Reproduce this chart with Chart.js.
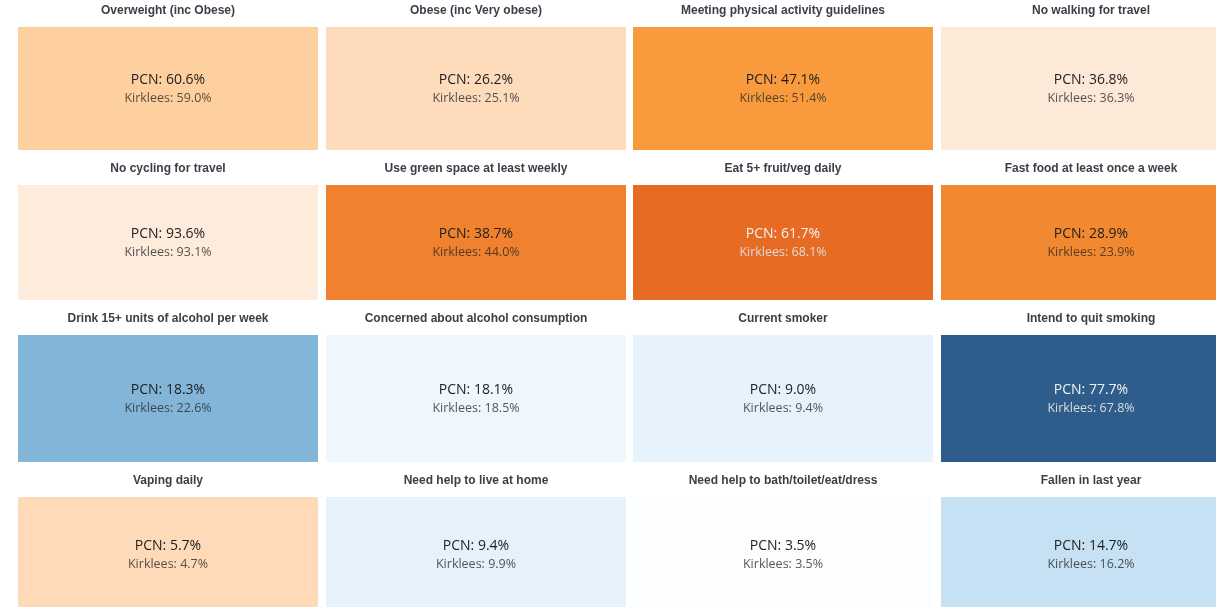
<!DOCTYPE html>
<html lang="en">

<head>
    <meta charset="UTF-8">
    <title>PCN vs Kirklees tiles</title>
    <script src="https://cdn.jsdelivr.net/npm/chart.js"></script>
    <style>
        html, body { margin: 0; padding: 0; background: #fff; overflow: hidden; }
        .grid {
            display: grid;
            grid-template-columns: repeat(4, 300px);
            grid-template-rows: 150px 142px 154px 142px;
            column-gap: 7.5px;
            row-gap: 8px;
            margin-left: 18px;
            width: 1222.5px;
        }
        .tile { position: relative; }
    </style>
</head>

<body>
    <div class="grid" id="grid"></div>
    <script>
        // indicators, left to right, top to bottom
        const indicators = [
            'Overweight (inc Obese)', 'Obese (inc Very obese)', 'Meeting physical activity guidelines', 'No walking for travel',
            'No cycling for travel', 'Use green space at least weekly', 'Eat 5+ fruit/veg daily', 'Fast food at least once a week',
            'Drink 15+ units of alcohol per week', 'Concerned about alcohol consumption', 'Current smoker', 'Intend to quit smoking',
            'Vaping daily', 'Need help to live at home', 'Need help to bath/toilet/eat/dress', 'Fallen in last year'
        ];
        const pcnValues = [60.6, 26.2, 47.1, 36.8, 93.6, 38.7, 61.7, 28.9, 18.3, 18.1, 9.0, 77.7, 5.7, 9.4, 3.5, 14.7];
        const kirkleesValues = [59.0, 25.1, 51.4, 36.3, 93.1, 44.0, 68.1, 23.9, 22.6, 18.5, 9.4, 67.8, 4.7, 9.9, 3.5, 16.2];

        // tile fill colours (styling only)
        const tileColours = [
            '#fed09f', '#fddbbb', '#f99b3d', '#fde9d8',
            '#fdebdb', '#f0812e', '#e86b23', '#f28930',
            '#83b5d9', '#eef6fe', '#e7f3fc', '#2e5d8b',
            '#fedab8', '#e5f1fb', '#fbfdff', '#c6e1f3'
        ];
        const darkTiles = ['#e86b23', '#2e5d8b'];

        const tileText = {
            id: 'tileText',
            afterDatasetsDraw(chart) {
                const bar = chart.getDatasetMeta(0).data[0];
                const i = chart.options.plugins.tileText.index;
                const dark = darkTiles.includes(tileColours[i]);
                const cx = bar.x;
                const cy = (bar.y + bar.base) / 2;
                const ctx = chart.ctx;
                ctx.save();
                ctx.textAlign = 'center';
                ctx.textBaseline = 'middle';
                ctx.font = '14px "Open Sans", "Noto Sans", sans-serif';
                ctx.fillStyle = dark ? '#f2f2f2' : '#1e1e1e';
                ctx.fillText('PCN: ' + pcnValues[i].toFixed(1) + '%', cx, cy - 8);
                ctx.font = '12.5px "Open Sans", "Noto Sans", sans-serif';
                ctx.fillStyle = dark ? '#dcdcdc' : 'rgba(40,40,40,0.78)';
                ctx.fillText('Kirklees: ' + kirkleesValues[i].toFixed(1) + '%', cx, cy + 10);
                ctx.restore();
            }
        };

        const grid = document.getElementById('grid');
        indicators.forEach((name, i) => {
            const div = document.createElement('div');
            div.className = 'tile';
            const canvas = document.createElement('canvas');
            div.appendChild(canvas);
            grid.appendChild(div);

            new Chart(canvas, {
                type: 'bar',
                data: {
                    labels: [name],
                    datasets: [{
                        data: [1],
                        backgroundColor: tileColours[i],
                        borderWidth: 0,
                        barPercentage: 1,
                        categoryPercentage: 1
                    }]
                },
                options: {
                    responsive: true,
                    maintainAspectRatio: false,
                    animation: false,
                    layout: { padding: 0 },
                    scales: {
                        x: { display: false },
                        y: { display: false, min: 0, max: 1 }
                    },
                    plugins: {
                        legend: { display: false },
                        tooltip: { enabled: false },
                        title: {
                            display: true,
                            text: name,
                            color: '#3a3e47',
                            font: { family: '"Liberation Sans", Arial, sans-serif', size: 12, weight: 'bold', lineHeight: 1.2 },
                            padding: { top: 3.5, bottom: 9.1 }
                        },
                        tileText: { index: i }
                    }
                },
                plugins: [tileText]
            });
        });
    </script>
</body>

</html>
